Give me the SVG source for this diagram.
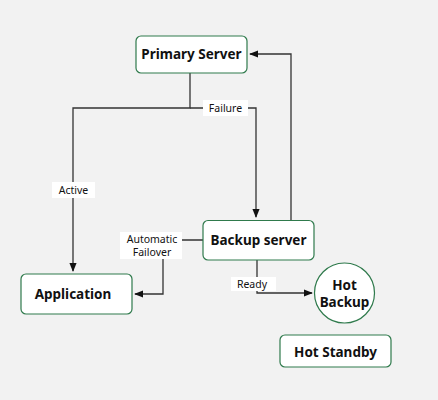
<svg xmlns="http://www.w3.org/2000/svg" width="438" height="400" viewBox="0 0 438 400">
<style>
.node{fill:#fff;stroke:#2f7a4c;stroke-width:1.2}
.nt{font-family:"Noto Sans","Open Sans",sans-serif;font-weight:bold;font-size:13.5px;fill:#111;text-anchor:middle;dominant-baseline:central}
.edge{fill:none;stroke:#333;stroke-width:1.3}
.lb{fill:#fff}
.lt{font-family:"Noto Sans","Open Sans",sans-serif;font-size:10.5px;fill:#111;text-anchor:middle;dominant-baseline:central}
</style>
<defs>
<marker id="arr" viewBox="0 0 10 10" refX="9" refY="5" markerWidth="7" markerHeight="7" orient="auto-start-reverse"><path d="M0,1 L10,5 L0,9 z" fill="#111"/></marker>
</defs>
<rect width="438" height="400" fill="#f2f2f2"/>
<g id="connectors">
<path class="edge" d="M190,73 V108 H73 V271" marker-end="url(#arr)"/>
<path class="edge" d="M190,108 H256 V217" marker-end="url(#arr)"/>
<path class="edge" d="M291,220 V54 H250" marker-end="url(#arr)"/>
<path class="edge" d="M203,240 H163 V294 H135" marker-end="url(#arr)"/>
<path class="edge" d="M257,260 V293 H312" marker-end="url(#arr)"/>
<rect class="lb" x="203" y="100" width="45" height="16"/>
<text class="lt" x="225.5" y="108">Failure</text>
<rect class="lb" x="52" y="182" width="43" height="16"/>
<text class="lt" x="73.5" y="190">Active</text>
<rect class="lb" x="120" y="232" width="62" height="27"/>
<text class="lt" x="152" y="239">Automatic</text>
<text class="lt" x="152" y="252">Failover</text>
<rect class="lb" x="231" y="277" width="45" height="14"/>
<text class="lt" x="252" y="284">Ready</text>
</g>
<g id="primary"><rect class="node" x="136" y="36" width="111" height="37" rx="5"/><text class="nt" x="191.5" y="54">Primary Server</text></g>
<g id="backup"><rect class="node" x="203" y="220.5" width="111" height="39.5" rx="5"/><text class="nt" x="258.5" y="240">Backup server</text></g>
<g id="application"><rect class="node" x="21" y="274" width="111" height="40" rx="5"/><text class="nt" x="73" y="294">Application</text></g>
<g id="hotbackup"><circle class="node" cx="344.5" cy="293" r="30"/><text class="nt" x="344.5" y="285">Hot</text><text class="nt" x="344.5" y="302">Backup</text></g>
<g id="hotstandby"><rect class="node" x="280" y="335" width="111" height="32" rx="5"/><text class="nt" x="335.5" y="351.5">Hot Standby</text></g>
</svg>
